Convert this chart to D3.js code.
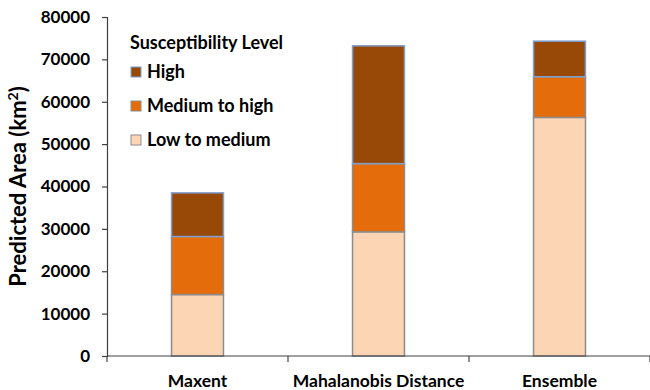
<!DOCTYPE html>
<html><head><meta charset="utf-8">
<script src="https://cdn.jsdelivr.net/npm/d3@7"></script>
<style>body{margin:0;background:#fff}svg{display:block}text{font-family:Lato,"Open Sans",sans-serif;font-weight:bold;fill:#000}</style>
</head><body><svg id="c" width="650" height="390"></svg>
<script>
const categories = ["Maxent", "Mahalanobis Distance", "Ensemble"];
const lowToMedium = [14500, 29300, 56300];
const mediumToHigh = [13700, 16100, 9600];
const high = [10300, 27800, 8400];
const yTicks = [0, 10000, 20000, 30000, 40000, 50000, 60000, 70000, 80000];
const seriesNames = ["Low to medium", "Medium to high", "High"];
const colors = ["#FCD5B5", "#E46C0A", "#984807"];
const strokes = ["#8c8c8c", "#8c8c8c", "#7f9fcf"];

const svg = d3.select("#c");
const m = {l:107, r:0, t:17, b:34};
const W = 650, H = 390;
const x = d3.scaleBand().domain(categories).range([m.l, W - m.r]).padding(0);
const y = d3.scaleLinear().domain([0, 80000]).range([H - m.b, m.t]);

const rows = categories.map((c, i) => ({cat: c, "Low to medium": lowToMedium[i], "Medium to high": mediumToHigh[i], "High": high[i]}));
const stack = d3.stack().keys(seriesNames)(rows);
const barW = x.bandwidth() * 0.287;

stack.forEach((layer, li) => {
  svg.append("g").selectAll("rect").data(layer).join("rect")
    .attr("x", d => x(d.data.cat) + (x.bandwidth() - barW) / 2)
    .attr("y", d => y(d[1]))
    .attr("width", barW)
    .attr("height", d => y(d[0]) - y(d[1]))
    .attr("fill", colors[li])
    .attr("stroke", strokes[li])
    .attr("stroke-width", 1.5);
});

// y axis
const ya = svg.append("g").attr("transform", `translate(${m.l},0)`)
  .call(d3.axisLeft(y).tickValues(yTicks).tickSize(5).tickPadding(12).tickFormat(d3.format("d")));
ya.select(".domain").attr("stroke", "#404040").attr("stroke-width", 1.2);
ya.selectAll(".tick line").attr("stroke", "#404040").attr("stroke-width", 1.2);
ya.selectAll("text").style("font-size", "17px").attr("fill", "#000");

// x axis
const xa = svg.append("g").attr("transform", `translate(0,${y(0)})`)
  .call(d3.axisBottom(x).tickSize(0).tickPadding(19));
xa.select(".domain").attr("stroke", "#404040").attr("stroke-width", 1.2).attr("d", `M${m.l},0H${W}`);
xa.selectAll("text").style("font-size", "17.5px").attr("fill", "#000");
xa.selectAll(".tick line").remove();
const bounds = categories.map(c => x(c)).concat([x(categories[categories.length-1]) + x.bandwidth()]);
xa.selectAll("line.sep").data(bounds).join("line").attr("class","sep")
  .attr("x1", d => d).attr("x2", d => d).attr("y1", 0).attr("y2", 6)
  .attr("stroke", "#404040").attr("stroke-width", 1.2);

// y title
svg.append("text").attr("transform", `translate(26,${(y(0)+y(80000))/2}) rotate(-90)`)
  .attr("text-anchor", "middle").style("font-size", "22px")
  .html('Predicted Area (km<tspan baseline-shift="super" font-size="14px">2</tspan>)');

// legend
const lg = svg.append("g").attr("transform", "translate(130,0)");
lg.append("text").attr("x", 0).attr("y", 49).style("font-size", "18px").text("Susceptibility Level");
const legItems = [2, 1, 0];
const legY = [72, 106, 140];
legItems.forEach((si, k) => {
  lg.append("rect").attr("x", 1).attr("y", legY[k] - 5).attr("width", 10).attr("height", 10)
    .attr("fill", colors[si]).attr("stroke", strokes[si]).attr("stroke-width", 1);
  lg.append("text").attr("x", 17).attr("y", legY[k] + 6).style("font-size", "18px").text(seriesNames[si]);
});
</script></body></html>
